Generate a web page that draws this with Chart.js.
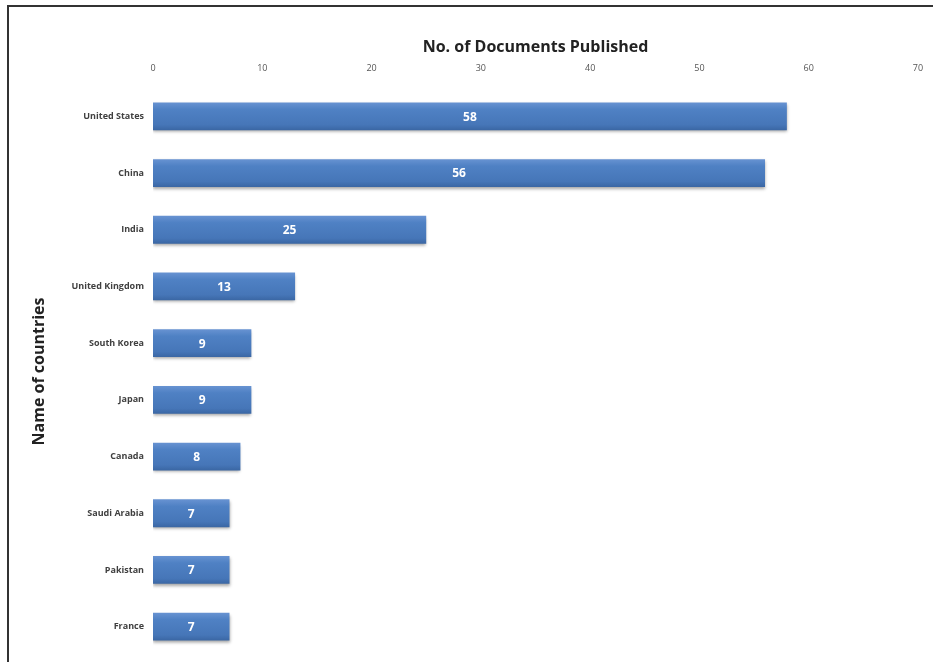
<!DOCTYPE html>
<html>
<head>
<meta charset="utf-8">
<script src="https://cdn.jsdelivr.net/npm/chart.js@4"></script>
<style>
    html, body { margin: 0; padding: 0; background: #fff; overflow: hidden; }
    #wrap { position: relative; width: 933px; height: 662px; }
    #frame { position: absolute; left: 7px; top: 5px; width: 960px; height: 700px; border: 2px solid #333; pointer-events: none; }
</style>
</head>
<body>
<div id="wrap">
    <canvas id="docsChart" width="933" height="662"></canvas>
    <div id="frame"></div>
</div>
<script>
const countries = ['United States', 'China', 'India', 'United Kingdom', 'South Korea', 'Japan', 'Canada', 'Saudi Arabia', 'Pakistan', 'France'];
const documents = [58, 56, 25, 13, 9, 9, 8, 7, 7, 7];
const xTicks = [0, 10, 20, 30, 40, 50, 60, 70];

// white value labels in the middle of each bar
const barValues = {
    id: 'barValues',
    afterDatasetsDraw(chart) {
        const ctx = chart.ctx;
        ctx.save();
        ctx.fillStyle = '#fff';
        ctx.font = 'bold 12px "Open Sans"';
        ctx.textAlign = 'center';
        ctx.textBaseline = 'middle';
        chart.getDatasetMeta(0).data.forEach((bar, i) => {
            ctx.fillText(documents[i], (bar.base + bar.x) / 2, bar.y + 1);
        });
        ctx.restore();
    }
};

// soft shadow under bars
const barShadow = {
    id: 'barShadow',
    beforeDatasetsDraw(chart) {
        const ctx = chart.ctx;
        ctx.save();
        ctx.shadowColor = 'rgba(0,0,0,0.35)';
        ctx.shadowBlur = 3;
        ctx.shadowOffsetY = 2;
    },
    afterDatasetsDraw(chart) {
        chart.ctx.restore();
    }
};

function barFill(context) {
    const chart = context.chart;
    if (!chart.chartArea) return '#4a7cbf';
    const y = chart.scales.y.getPixelForValue(context.dataIndex);
    const g = chart.ctx.createLinearGradient(0, y - 14, 0, y + 14);
    g.addColorStop(0, '#6893d2');
    g.addColorStop(0.25, '#4f81c4');
    g.addColorStop(0.8, '#4676b8');
    g.addColorStop(1, '#3a66a3');
    return g;
}

const ctx = document.getElementById('docsChart').getContext('2d');
new Chart(ctx, {
    type: 'bar',
    data: {
        labels: countries,
        datasets: [{
            data: documents,
            backgroundColor: barFill,
            borderWidth: 0,
            barPercentage: 0.98,
            categoryPercentage: 0.5
        }]
    },
    plugins: [barShadow, barValues],
    options: {
        indexAxis: 'y',
        responsive: false,
        animation: false,
        layout: {
            padding: { left: 26, right: 15, top: 34, bottom: 7 }
        },
        plugins: {
            legend: { display: false },
            tooltip: { enabled: false }
        },
        scales: {
            x: {
                position: 'top',
                min: 0,
                max: 70,
                afterBuildTicks: (scale) => { scale.ticks = xTicks.map(v => ({ value: v })); },
                afterFit: (scale) => {
                    scale.height = 54;
                    scale.paddingLeft = 0;
                    scale.paddingRight = 0;
                },
                grid: { display: false, drawTicks: false },
                border: { display: false },
                ticks: {
                    padding: 14,
                    color: '#555',
                    font: { size: 9, family: 'Open Sans' }
                },
                title: {
                    display: true,
                    text: 'No. of Documents Published',
                    color: '#222',
                    padding: { top: 4, bottom: 0 },
                    font: { size: 16, weight: 'bold', family: 'Open Sans' }
                }
            },
            y: {
                afterFit: (scale) => {
                    scale.width = 127;
                    scale.paddingTop = 0;
                    scale.paddingBottom = 0;
                },
                grid: { display: false, drawTicks: false },
                border: { display: false },
                ticks: {
                    padding: 9,
                    color: '#404040',
                    font: { size: 9, weight: 'bold', family: 'Open Sans' }
                },
                title: {
                    display: true,
                    text: 'Name of countries',
                    color: '#222',
                    padding: { top: 4, bottom: 0 },
                    font: { size: 16, weight: 'bold', family: 'Open Sans' }
                }
            }
        }
    }
});
</script>
</body>
</html>
